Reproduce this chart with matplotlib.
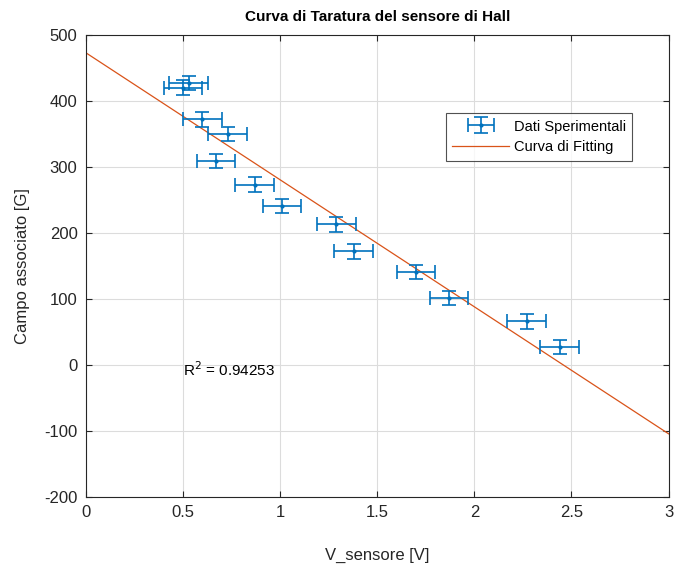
import numpy as np
import matplotlib
matplotlib.use("Agg")
import matplotlib.pyplot as plt
from matplotlib.legend_handler import HandlerErrorbar

v_sensore = [0.50, 0.53, 0.60, 0.73, 0.67, 0.87, 1.01, 1.29, 1.38, 1.70, 1.87, 2.27, 2.44]
campo = [420, 427, 372, 350, 309, 273, 241, 213, 172, 141, 101, 66, 27]
v_err = [0.1] * len(v_sensore)
campo_err = [11] * len(campo)

# Linear fit shown in the chart
fit_slope = -192.5
fit_intercept = 473.0
r2_text = "R$^2$ = 0.94253"

x_ticks = [0, 0.5, 1, 1.5, 2, 2.5, 3]
y_ticks = [-200, -100, 0, 100, 200, 300, 400, 500]
x_tick_labels = ["0", "0.5", "1", "1.5", "2", "2.5", "3"]


def main():
    plt.rcParams['font.family'] = ['Liberation Sans', 'DejaVu Sans']
    plt.rcParams['axes.unicode_minus'] = False
    blue = '#0072BD'
    orange = '#D95319'
    txt = '#262626'

    fig = plt.figure(figsize=(6.76, 5.73), dpi=100)
    ax = fig.add_axes([0.127, 0.133, 0.862, 0.806])

    eb = ax.errorbar(v_sensore, campo, xerr=v_err, yerr=campo_err, fmt='.',
                     color=blue, markersize=4, elinewidth=1.2, capsize=5,
                     capthick=1.2, label='Dati Sperimentali', zorder=3)

    xf = np.array([x_ticks[0], x_ticks[-1]])
    fl, = ax.plot(xf, fit_slope * xf + fit_intercept, color=orange, lw=0.9,
                  label='Curva di Fitting', zorder=2)

    ax.text(0.5, -7, r2_text, fontsize=11, color='black', va='center', ha='left')

    ax.set_xlim(0, 3)
    ax.set_ylim(-200, 500)
    ax.set_xticks(x_ticks)
    ax.set_xticklabels(x_tick_labels)
    ax.set_yticks(y_ticks)
    ax.grid(True, color='#dcdcdc', lw=0.8)
    ax.set_axisbelow(True)
    ax.tick_params(direction='in', top=True, right=True, labelsize=12,
                   colors=txt, length=4, pad=6)
    for s in ax.spines.values():
        s.set_color(txt)
        s.set_linewidth(0.8)

    ax.set_title('Curva di Taratura del sensore di Hall', fontsize=11,
                 fontweight='bold', color='black', pad=10)
    ax.set_xlabel('V_sensore [V]', fontsize=12, color=txt, labelpad=20)
    ax.set_ylabel('Campo associato [G]', fontsize=12, color=txt, labelpad=10)

    leg = ax.legend([eb, fl], ['Dati Sperimentali', 'Curva di Fitting'],
                    loc='upper right', bbox_to_anchor=(0.938, 0.831), fontsize=10.5,
                    frameon=True, fancybox=False, edgecolor=txt,
                    borderpad=0.45, handlelength=3.9, handletextpad=0.3,
                    labelspacing=0.45, borderaxespad=0,
                    handler_map={type(eb): HandlerErrorbar(xerr_size=0.9, yerr_size=0.55)})
    leg.get_frame().set_linewidth(0.8)

    fig.savefig('out.png', dpi=100)


if __name__ == "__main__":
    main()
